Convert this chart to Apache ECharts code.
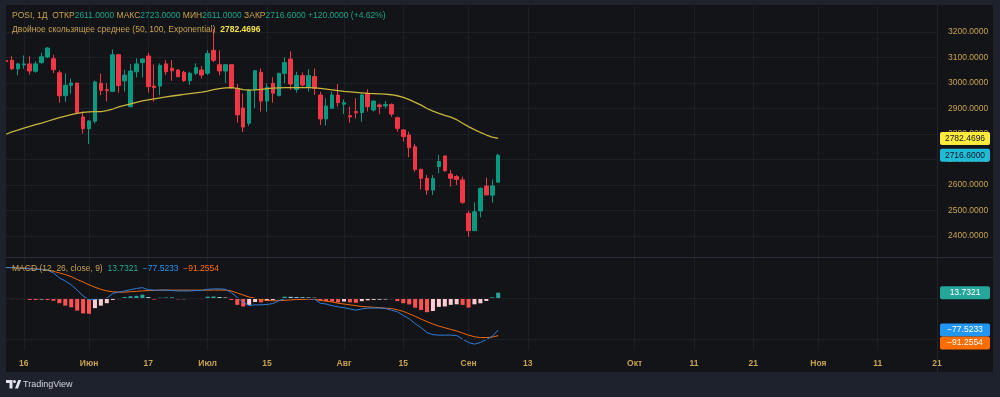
<!DOCTYPE html>
<html>
<head>
<meta charset="utf-8">
<script src="https://cdn.jsdelivr.net/npm/echarts@6/dist/echarts.min.js"></script>
<style>
  html, body { margin: 0; padding: 0; background: #1e222d; }
  #chart { width: 1000px; height: 397px; }
</style>
</head>
<body>
<div id="chart"></div>
<script>
// дневные свечи POSI, 13.05 - 08.09
const opens = [3088,3089,3055,3071,3075,3046,3080,3102,3095,3040, 2950,2991,3000,2867,2821,2850,2999,2974,2967,3111,
  3008,2907,3044,3080,3106,2988,2988,3075,3058,3051, 3042,3009,3038,3051,3038,3128,3072,3047,3072,2979,
  2902,2842,2973,3042,2929,2999,2950,3038,3094,2975, 3029,2983,3025,2953,2859,2901,2953,2917,2872,2888,
  2884,2960,2894,2914,2910,2916,2864,2816,2796,2750, 2661,2626,2580,2672,2714,2643,2633,2620,2489,2421,
  2498,2596,2560,2611]
const highs = [3090,3105,3080,3108,3105,3085,3119,3141,3111,3050, 3037,3017,3000,2889,2854,3010,3037,3000,3132,3111,
  3051,3075,3097,3097,3119,3073,3077,3090,3090,3054, 3048,3044,3077,3067,3129,3212,3128,3072,3072,2996,
  2958,2975,3050,3057,2999,3022,3040,3101,3125,3044, 3042,3054,3057,2966,2940,2966,2996,2936,2907,2940,
  2960,2975,2933,2920,2929,2920,2868,2818,2809,2761, 2665,2639,2639,2718,2714,2659,2639,2633,2499,2532,
  2591,2629,2622,2723]
const lows = [3082,3050,3030,3056,3033,3040,3075,3098,3039,2923, 2926,2958,2884,2801,2761,2841,2952,2928,2965,2962,
  2966,2905,3022,3022,2962,2927,2953,3031,3009,3022, 3005,2992,3031,3018,3031,3082,3030,3000,2978,2844,
  2808,2831,2901,2888,2888,2923,2950,2999,2973,2962, 2986,2966,2953,2835,2833,2901,2907,2878,2844,2861,
  2848,2888,2888,2878,2901,2868,2809,2770,2709,2652, 2583,2561,2561,2646,2652,2594,2600,2526,2397,2421,
  2473,2561,2531,2611]
const closes = [3084,3056,3075,3075,3047,3075,3103,3137,3052,2950, 2991,3000,2884,2821,2851,3004,2971,2970,3111,2990,
  3031,3047,3075,3094,2986,2982,3069,3044,3048,3025, 3009,3038,3061,3031,3116,3089,3047,3072,2982,2875,
  2827,2973,3048,2929,2983,2960,3038,3080,2996,3029, 2992,3029,2979,2859,2910,2953,2923,2923,2867,2883,
  2953,2907,2929,2907,2916,2878,2822,2790,2746,2661, 2626,2580,2626,2692,2656,2626,2622,2532,2421,2495,
  2587,2561,2596.6,2716.6]

// Двойное скользящее среднее (50, 100)
const dma = [2799,2808,2815,2823,2830,2837,2843,2850,2857,2864, 2870,2876,2881,2885,2887,2888,2888,2892,2898,2906,
  2912,2918,2924,2930,2934,2938,2942,2946,2949,2952, 2955,2958,2961,2964,2968,2974,2978,2981,2982,2979,
  2974,2972,2973,2975,2978,2980,2981,2982,2982,2982, 2982,2982,2981,2979,2976,2973,2970,2967,2965,2963,
  2961,2959,2958,2957,2956,2954,2950,2944,2935,2924, 2913,2900,2890,2881,2873,2866,2856,2842,2829,2817,
  2806,2796,2788,2782.4696]

// MACD (12, 26, close, 9)
const macdLine = [75,75,74,73,72,71,70,69,62,50, 42,33,20,6,-4,-2,-1,0,12,15,
  18,21,24,26,21,20,20,20,19,18, 18,18,19,19,22,23,23,22,14,2,
  -10,-18,-16,-16,-15,-13,-6,-1,0,0, 0,-1,-2,-12,-14,-18,-21,-23,-26,-29,
  -26,-24,-24,-24,-25,-29,-33,-42,-50,-62, -72,-84,-89,-90,-90,-90,-91,-100,-108,-112,
  -108,-101,-93,-77.5233]
const signalLine = [75,75,74,74,73,72,71,69,66,62, 58,53,46,40,33,27,22,18,16,15,
  15,16,17,18,19,19,20,20,20,20, 20,20,20,20,20,20,20,20,18,13,
  8,3,0,-3,-5,-6,-6,-5,-4,-3, -3,-2,-2,-5,-7,-9,-12,-14,-16,-18,
  -20,-21,-22,-23,-24,-25,-28,-32,-38,-44, -51,-57,-63,-68,-72,-76,-80,-85,-90,-94,
  -96,-96,-95,-91.2554]
const histogram = [-1,-2,-2,-2,-4,-4,-3,-4,-6,-12, -18,-22,-30,-37,-38,-24,-18,-12,-4,-2,
  3,5,6,9,3,-3,1.5,2,2.5,-2.5, -2.2,-1.8,-1.2,-2,4,4.5,3,2,-4,-16,
  -20,-16,-9,-10,-6,-4,-2,4,3.5,3, 2.5,2,1.5,-6,-7,-8,-10,-8,-10,-11,
  -7,-5,-4,-3.5,-3,-2,-7,-12,-15,-23, -28.5,-34,-31,-21,-20,-16,-14.7,-16.3,-22.8,-14.7,
  -12.2,-6.5,2.4,13.7321]

const tickDates = ['2025-05-16','2025-06-02','2025-06-17','2025-07-01','2025-07-15','2025-08-01','2025-08-15',
  '2025-09-01','2025-09-13','2025-10-01','2025-10-11','2025-10-21','2025-11-01','2025-11-11','2025-11-21']
const tickTexts = ['16','Июн','17','Июл','15','Авг','15','Сен','13','Окт','11','21','Ноя','11','21']
const holidays = ['2025-06-12']

// торговые дни до последней свечи, дальше календарные
function buildDates() {
  const out = []
  const d = new Date(Date.UTC(2025, 4, 13))
  const lastBar = Date.UTC(2025, 8, 8)
  const end = Date.UTC(2025, 10, 21)
  while (d.getTime() <= end) {
    const iso = d.toISOString().slice(0, 10)
    const wd = d.getUTCDay()
    if (d.getTime() > lastBar || (wd !== 0 && wd !== 6 && holidays.indexOf(iso) < 0)) out.push(iso)
    d.setUTCDate(d.getUTCDate() + 1)
  }
  return out
}
const dates = buildDates()

const gold = '#c9a24f'
const upColor = '#089981'
const downColor = '#f23645'
const gridColor = '#1c1f26'
const FONT = 'Liberation Sans'
const isTick = (i, v) => tickDates.indexOf(v) >= 0

const chart = echarts.init(document.getElementById('chart'))

const histData = histogram.map((v, i) => {
  const prev = i > 0 ? histogram[i - 1] : v
  let c
  if (v >= 0) c = prev < v ? '#26a69a' : '#b2dfdb'
  else c = prev < v ? '#ffcdd2' : '#ff5252'
  return { value: v, itemStyle: { color: c } }
})

const hLine = []
for (let i = 0; i < 11; i++) hLine.push(i === 0 || i === 10 ? 'rgba(0,0,0,0)' : gridColor)

chart.setOption({
  backgroundColor: '#121418',
  animation: false,
  grid: [
    { left: 6, right: 63, top: 6.5, height: 255 },
    { left: 6, right: 63, top: 258, height: 92 }
  ],
  xAxis: [
    {
      type: 'category', gridIndex: 0, data: dates, boundaryGap: false,
      axisLine: { show: false }, axisTick: { show: false }, axisLabel: { show: false },
      splitLine: { show: true, interval: isTick, lineStyle: { color: gridColor, width: 1 } }
    },
    {
      type: 'category', gridIndex: 1, data: dates, boundaryGap: false,
      axisLine: { show: false }, axisTick: { show: false },
      axisLabel: {
        interval: isTick, color: gold, fontFamily: FONT, fontSize: 8.5, fontWeight: 'bold', margin: 9,
        formatter: v => tickTexts[tickDates.indexOf(v)] || ''
      },
      splitLine: { show: true, interval: isTick, lineStyle: { color: gridColor, width: 1 } }
    }
  ],
  yAxis: [
    {
      type: 'value', gridIndex: 0, position: 'right', min: 2300, max: 3300, interval: 100,
      axisLine: { show: false }, axisTick: { show: false },
      axisLabel: {
        color: gold, fontFamily: FONT, fontSize: 8.5, margin: 11,
        showMinLabel: false, showMaxLabel: false, formatter: v => v.toFixed(4)
      },
      splitLine: { show: true, lineStyle: { color: hLine, width: 1 } }
    },
    {
      type: 'value', gridIndex: 1, position: 'right', min: -126.4, max: 98.5,
      axisLine: { show: false }, axisTick: { show: false },
      axisLabel: { show: false }, splitLine: { show: false }
    }
  ],
  series: [
    {
      type: 'candlestick', xAxisIndex: 0, yAxisIndex: 0, barWidth: 4,
      data: opens.map((o, i) => [o, closes[i], lows[i], highs[i]]),
      itemStyle: { color: upColor, color0: downColor, borderColor: upColor, borderColor0: downColor, borderWidth: 1 }
    },
    {
      type: 'line', xAxisIndex: 0, yAxisIndex: 0, data: dma, symbol: 'none', z: 3,
      lineStyle: { color: '#c7b53c', width: 1.3 }
    },
    {
      type: 'bar', xAxisIndex: 1, yAxisIndex: 1, data: histData, barWidth: 4,
      markLine: {
        silent: true, symbol: 'none', label: { show: false },
        lineStyle: { color: gridColor, type: 'solid', width: 1 },
        data: [{ yAxis: 0 }, { yAxis: -100 }]
      }
    },
    {
      type: 'line', xAxisIndex: 1, yAxisIndex: 1, data: macdLine, symbol: 'none', z: 4,
      lineStyle: { color: '#2e7fd9', width: 1 }
    },
    {
      type: 'line', xAxisIndex: 1, yAxisIndex: 1, data: signalLine, symbol: 'none', z: 3,
      lineStyle: { color: '#f0680c', width: 1 }
    }
  ]
})

// плашки последних значений на шкале
const tags = []
function tag(value, y, bg, fg) {
  tags.push(
    { type: 'rect', z: 100, shape: { x: 940, y: y - 6.5, width: 50, height: 13, r: 2 }, style: { fill: bg } },
    {
      type: 'text', z: 101, x: 965, y: y,
      style: { text: value.toFixed(4).replace('-', '\u2212'), fill: fg, font: '8.5px ' + FONT, align: 'center', verticalAlign: 'middle' }
    }
  )
}
const py = v => chart.convertToPixel({ yAxisIndex: 0 }, v)
const my = v => chart.convertToPixel({ yAxisIndex: 1 }, v)
const last = closes.length - 1
tag(dma[last], py(dma[last]), '#ffeb3b', '#131722')
tag(closes[last], py(closes[last]), '#20bcd5', '#131722')
tag(histogram[last], my(histogram[last]), '#26a69a', '#ffffff')
const yMacd = my(macdLine[last])
tag(macdLine[last], yMacd, '#2196f3', '#ffffff')
tag(signalLine[last], Math.max(my(signalLine[last]), yMacd + 13), '#ff6d00', '#ffffff')

const change = closes[last] - closes[last - 1]
const pct = change / closes[last - 1] * 100
const legendFont = '8.5px ' + FONT

chart.setOption({
  graphic: [
    // рамка вокруг графика
    { type: 'rect', z: 90, shape: { x: 0, y: 0, width: 6, height: 397 }, style: { fill: '#1e222d' } },
    { type: 'rect', z: 90, shape: { x: 0, y: 0, width: 1000, height: 5 }, style: { fill: '#1e222d' } },
    { type: 'rect', z: 90, shape: { x: 993, y: 0, width: 7, height: 397 }, style: { fill: '#1e222d' } },
    { type: 'rect', z: 90, shape: { x: 0, y: 372, width: 1000, height: 25 }, style: { fill: '#1e222d' } },
    // разделители панелей
    { type: 'line', z: 50, shape: { x1: 6, y1: 257.5, x2: 993, y2: 257.5 }, style: { stroke: '#2a2e39', lineWidth: 1 } },
    { type: 'line', z: 50, shape: { x1: 937.5, y1: 5, x2: 937.5, y2: 372 }, style: { stroke: '#22252d', lineWidth: 1 } },
    // легенда
    {
      type: 'text', z: 95, x: 12, y: 16,
      style: {
        text: '{g|POSI, 1Д  ОТКР}{v|' + opens[last].toFixed(4) + '}{g| МАКС}{v|' + highs[last].toFixed(4) +
          '}{g| МИН}{v|' + lows[last].toFixed(4) + '}{g| ЗАКР}{v|' + closes[last].toFixed(4) +
          '}{v| +' + change.toFixed(4) + ' (+' + pct.toFixed(2) + '%)}',
        font: legendFont, verticalAlign: 'middle',
        rich: { g: { fill: gold, font: legendFont }, v: { fill: '#1aa58c', font: legendFont } }
      }
    },
    {
      type: 'text', z: 95, x: 12, y: 29.5,
      style: {
        text: '{g|Двойное скользящее среднее (50, 100, Exponential)}{y|  ' + dma[last].toFixed(4) + '}',
        font: legendFont, verticalAlign: 'middle',
        rich: { g: { fill: gold, font: legendFont }, y: { fill: '#f4e34a', font: 'bold ' + legendFont } }
      }
    },
    {
      type: 'text', z: 95, x: 12, y: 269,
      style: {
        text: '{g|MACD (12, 26, close, 9)}{h|  ' + histogram[last].toFixed(4) + '}{m|  \u2212' +
          Math.abs(macdLine[last]).toFixed(4) + '}{s|  \u2212' + Math.abs(signalLine[last]).toFixed(4) + '}',
        font: legendFont, verticalAlign: 'middle',
        rich: {
          g: { fill: gold, font: legendFont }, h: { fill: '#22ab94', font: legendFont },
          m: { fill: '#2196f3', font: legendFont }, s: { fill: '#ff6d00', font: legendFont }
        }
      }
    },
    // логотип
    { type: 'polygon', z: 95, shape: { points: [[6, 380], [12.5, 380], [12.5, 388.5], [9.5, 388.5], [9.5, 383], [6, 383]] }, style: { fill: '#e0e3eb' } },
    { type: 'circle', z: 95, shape: { cx: 14.5, cy: 381.5, r: 1.5 }, style: { fill: '#e0e3eb' } },
    { type: 'polygon', z: 95, shape: { points: [[15, 388.5], [18.2, 380], [21.2, 380], [18, 388.5]] }, style: { fill: '#e0e3eb' } },
    {
      type: 'text', z: 95, x: 23, y: 384.5,
      style: { text: 'TradingView', fill: '#d1d4dc', font: '9px ' + FONT, verticalAlign: 'middle' }
    }
  ].concat(tags)
})
</script>
</body>
</html>
